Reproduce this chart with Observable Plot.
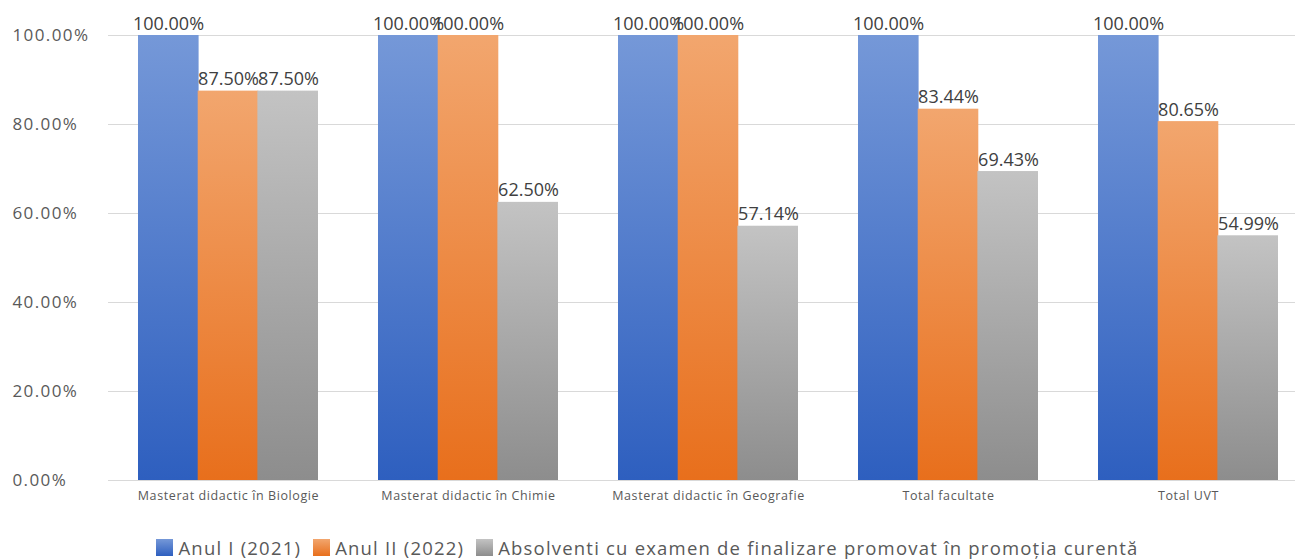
<!DOCTYPE html>
<html>
<head>
<meta charset="utf-8">
<script src="https://cdn.jsdelivr.net/npm/d3@7"></script>
<script src="https://cdn.jsdelivr.net/npm/@observablehq/plot@0.6"></script>
<style>
  body { margin: 0; background: #fff; font-family: "Open Sans", sans-serif; }
  #legend { display: flex; justify-content: center; align-items: center; gap: 12px; margin-top: 20px; font-size: 18.5px; letter-spacing: 1.2px; color: #595959; }
  #legend .item { display: flex; align-items: center; gap: 5px; }
  #legend .sw { width: 17px; height: 17px; display: inline-block; }
</style>
</head>
<body>
<div id="chart"></div>
<div id="legend"></div>
<script>
const categories = ["Masterat didactic în Biologie", "Masterat didactic în Chimie", "Masterat didactic în Geografie", "Total facultate", "Total UVT"];
const seriesNames = ["Anul I (2021)", "Anul II (2022)", "Absolventi cu examen de finalizare promovat în promoția curentă"];
const anulI = [100, 100, 100, 100, 100];
const anulII = [87.5, 100, 100, 83.44, 80.65];
const absolventi = [87.5, 62.5, 57.14, 69.43, 54.99];
const yTicks = [0, 20, 40, 60, 80, 100];

const seriesValues = [anulI, anulII, absolventi];
const gradients = [
  {id: "gBlue", top: "#7598d8", bottom: "#2e5fbf"},
  {id: "gOrange", top: "#f2a66e", bottom: "#e86f1c"},
  {id: "gGray", top: "#c3c3c3", bottom: "#8d8d8d"}
];

const rows = seriesValues.map((vals, s) => categories.map((c, i) => ({category: c, value: vals[i], series: s})));

const bw = 60; // one bar's width within the 180px band
const insets = [[0, 2 * bw - 0.6], [bw - 0.3, bw - 0.3], [2 * bw - 0.6, 0]];
const offsets = [-bw, 0, bw];

const marks = [
  Plot.ruleY(yTicks, {stroke: "#d9d9d9", strokeWidth: 1})
];
rows.forEach((data, s) => {
  marks.push(Plot.barY(data, {
    x: "category", y: "value",
    fill: `url(#${gradients[s].id})`,
    insetLeft: insets[s][0], insetRight: insets[s][1]
  }));
});
rows.forEach((data, s) => {
  marks.push(Plot.text(data, {
    x: "category", y: "value",
    text: d => d.value.toFixed(2) + "%",
    dx: offsets[s], dy: -6, lineAnchor: "bottom",
    fontSize: 18, fill: "#404040",
    style: "letter-spacing:1.9px"
  }));
});
marks.push(Plot.axisY({ticks: yTicks, tickFormat: d => d.toFixed(2) + "%", tickSize: 0, tickPadding: 96, textAnchor: "start", fontSize: 17, label: null, color: "#595959"}));
marks.push(Plot.axisX({tickSize: 0, tickPadding: 11, fontSize: 12.5, label: null, color: "#595959"}));

const chart = Plot.plot({
  width: 1295,
  height: 515,
  marginTop: 35,
  marginBottom: 35,
  marginLeft: 108,
  marginRight: 0,
  style: {fontFamily: "'Open Sans', sans-serif", background: "#fff"},
  x: {domain: categories, paddingInner: 0.25, paddingOuter: 0.09, align: 0.64},
  y: {domain: [0, 100]},
  marks
});

const svg = d3.select(chart);
svg.selectAll("[aria-label='y-axis tick label'] text").style("letter-spacing", "1.4px");
svg.selectAll("[aria-label='x-axis tick label'] text").style("letter-spacing", "0.6px");
const defs = svg.insert("defs", ":first-child");
gradients.forEach(g => {
  const lg = defs.append("linearGradient").attr("id", g.id).attr("x1", 0).attr("y1", 0).attr("x2", 0).attr("y2", 1);
  lg.append("stop").attr("offset", "0%").attr("stop-color", g.top);
  lg.append("stop").attr("offset", "100%").attr("stop-color", g.bottom);
});
document.getElementById("chart").appendChild(chart);

const legend = d3.select("#legend");
seriesNames.forEach((name, s) => {
  const item = legend.append("div").attr("class", "item");
  item.append("span").attr("class", "sw").style("background", `linear-gradient(${gradients[s].top}, ${gradients[s].bottom})`);
  item.append("span").text(name);
});
</script>
</body>
</html>
